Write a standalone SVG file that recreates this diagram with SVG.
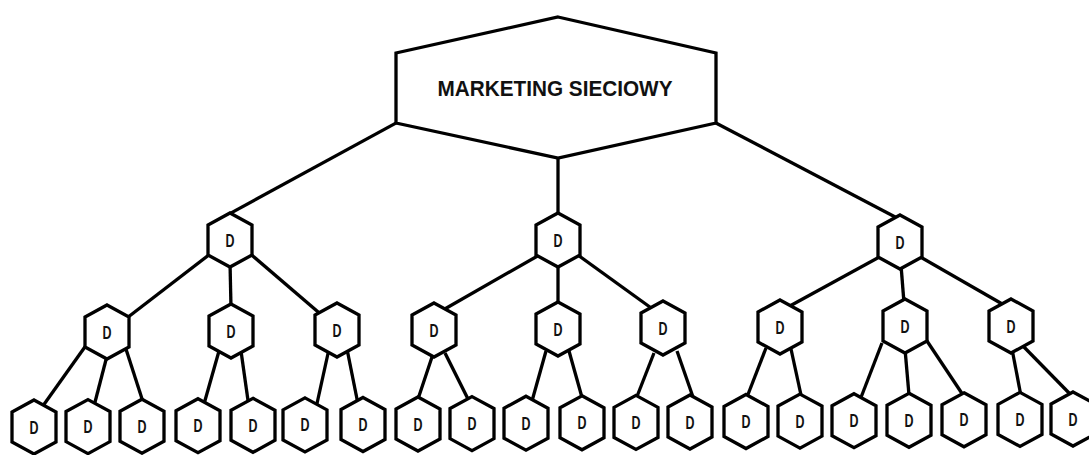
<svg xmlns="http://www.w3.org/2000/svg" xmlns:xlink="http://www.w3.org/1999/xlink" width="1089" height="455" viewBox="0 0 1089 455">
<style>
.hex{fill:#fff;stroke:#000;stroke-width:3.3;stroke-linejoin:miter}
.lbl{font-family:"Liberation Sans",Arial,sans-serif;font-weight:bold;font-size:18px;fill:#111;text-anchor:middle}
.title{font-family:"Liberation Sans",Arial,sans-serif;font-weight:bold;font-size:22px;fill:#111;text-anchor:middle}
#connectors line{stroke:#000;stroke-width:3.3;stroke-linecap:butt}
</style>
<defs>
<polygon id="h" class="hex" points="0,-27 22,-15 22,15 0,27 -22,15 -22,-15"/>
</defs>
<rect width="1089" height="455" fill="#fff"/>
<g id="connectors">
<line x1="400.4" y1="120.6" x2="226.6" y2="215.4"/>
<line x1="558" y1="156" x2="558" y2="216"/>
<line x1="711.6" y1="120.7" x2="901.4" y2="220.3"/>
<line x1="214" y1="251" x2="123" y2="321"/>
<line x1="230" y1="262" x2="231" y2="308"/>
<line x1="247" y1="251" x2="324" y2="317"/>
<line x1="541" y1="254" x2="443" y2="310"/>
<line x1="558" y1="262" x2="558" y2="306"/>
<line x1="575" y1="253" x2="654" y2="310"/>
<line x1="883" y1="255" x2="788" y2="307"/>
<line x1="901" y1="265" x2="904" y2="303"/>
<line x1="917" y1="255" x2="1004" y2="305"/>
<line x1="87" y1="344" x2="40" y2="410"/>
<line x1="108" y1="352" x2="94" y2="406"/>
<line x1="125" y1="346" x2="144" y2="405"/>
<line x1="219" y1="351" x2="204" y2="404"/>
<line x1="241" y1="351" x2="248.5" y2="404"/>
<line x1="329" y1="349" x2="316" y2="408"/>
<line x1="347" y1="349" x2="358" y2="404"/>
<line x1="433" y1="354" x2="417" y2="402"/>
<line x1="445" y1="353" x2="469" y2="401"/>
<line x1="546" y1="351" x2="532" y2="401"/>
<line x1="569" y1="351" x2="583" y2="401"/>
<line x1="654" y1="353" x2="636" y2="399"/>
<line x1="677" y1="351" x2="693" y2="397"/>
<line x1="766" y1="348" x2="747" y2="397"/>
<line x1="791" y1="349" x2="801" y2="395"/>
<line x1="882" y1="343" x2="860" y2="400"/>
<line x1="905" y1="349" x2="909" y2="395"/>
<line x1="925" y1="338" x2="963" y2="395"/>
<line x1="1012" y1="349" x2="1021" y2="396"/>
<line x1="1022" y1="345" x2="1071" y2="395"/>
</g>
<g id="root">
<polygon class="hex" points="558,17 716,53 716,123 558,158 396,123 396,53"/>
<text class="title" x="555" y="96" textLength="235" lengthAdjust="spacingAndGlyphs">MARKETING SIECIOWY</text>
</g>
<g id="n1a"><use xlink:href="#h" x="230" y="240"/><text class="lbl" x="230" y="246.5" textLength="9" lengthAdjust="spacingAndGlyphs">D</text></g>
<g id="n1b"><use xlink:href="#h" x="558" y="240"/><text class="lbl" x="558" y="246.5" textLength="9" lengthAdjust="spacingAndGlyphs">D</text></g>
<g id="n1c"><use xlink:href="#h" x="900" y="242"/><text class="lbl" x="900" y="248.5" textLength="9" lengthAdjust="spacingAndGlyphs">D</text></g>
<g id="n2a"><use xlink:href="#h" x="107" y="332"/><text class="lbl" x="107" y="338.5" textLength="9" lengthAdjust="spacingAndGlyphs">D</text></g>
<g id="n2b"><use xlink:href="#h" x="231" y="331"/><text class="lbl" x="231" y="337.5" textLength="9" lengthAdjust="spacingAndGlyphs">D</text></g>
<g id="n2c"><use xlink:href="#h" x="337" y="330"/><text class="lbl" x="337" y="336.5" textLength="9" lengthAdjust="spacingAndGlyphs">D</text></g>
<g id="n2d"><use xlink:href="#h" x="434" y="330"/><text class="lbl" x="434" y="336.5" textLength="9" lengthAdjust="spacingAndGlyphs">D</text></g>
<g id="n2e"><use xlink:href="#h" x="558" y="329"/><text class="lbl" x="558" y="335.5" textLength="9" lengthAdjust="spacingAndGlyphs">D</text></g>
<g id="n2f"><use xlink:href="#h" x="663" y="328"/><text class="lbl" x="663" y="334.5" textLength="9" lengthAdjust="spacingAndGlyphs">D</text></g>
<g id="n2g"><use xlink:href="#h" x="780" y="327"/><text class="lbl" x="780" y="333.5" textLength="9" lengthAdjust="spacingAndGlyphs">D</text></g>
<g id="n2h"><use xlink:href="#h" x="905" y="326"/><text class="lbl" x="905" y="332.5" textLength="9" lengthAdjust="spacingAndGlyphs">D</text></g>
<g id="n2i"><use xlink:href="#h" x="1011" y="326"/><text class="lbl" x="1011" y="332.5" textLength="9" lengthAdjust="spacingAndGlyphs">D</text></g>
<g id="n3a"><use xlink:href="#h" x="34" y="427"/><text class="lbl" x="34" y="433.5" textLength="9" lengthAdjust="spacingAndGlyphs">D</text></g>
<g id="n3b"><use xlink:href="#h" x="88" y="426.6"/><text class="lbl" x="88" y="433.1" textLength="9" lengthAdjust="spacingAndGlyphs">D</text></g>
<g id="n3c"><use xlink:href="#h" x="142" y="426.2"/><text class="lbl" x="142" y="432.7" textLength="9" lengthAdjust="spacingAndGlyphs">D</text></g>
<g id="n3d"><use xlink:href="#h" x="198" y="425.7"/><text class="lbl" x="198" y="432.2" textLength="9" lengthAdjust="spacingAndGlyphs">D</text></g>
<g id="n3e"><use xlink:href="#h" x="253" y="425.3"/><text class="lbl" x="253" y="431.8" textLength="9" lengthAdjust="spacingAndGlyphs">D</text></g>
<g id="n3f"><use xlink:href="#h" x="305" y="424.9"/><text class="lbl" x="305" y="431.4" textLength="9" lengthAdjust="spacingAndGlyphs">D</text></g>
<g id="n3g"><use xlink:href="#h" x="363" y="424.5"/><text class="lbl" x="363" y="431" textLength="9" lengthAdjust="spacingAndGlyphs">D</text></g>
<g id="n3h"><use xlink:href="#h" x="418" y="424"/><text class="lbl" x="418" y="430.5" textLength="9" lengthAdjust="spacingAndGlyphs">D</text></g>
<g id="n3i"><use xlink:href="#h" x="472" y="423.6"/><text class="lbl" x="472" y="430.1" textLength="9" lengthAdjust="spacingAndGlyphs">D</text></g>
<g id="n3j"><use xlink:href="#h" x="526" y="423.2"/><text class="lbl" x="526" y="429.7" textLength="9" lengthAdjust="spacingAndGlyphs">D</text></g>
<g id="n3k"><use xlink:href="#h" x="582" y="422.8"/><text class="lbl" x="582" y="429.3" textLength="9" lengthAdjust="spacingAndGlyphs">D</text></g>
<g id="n3l"><use xlink:href="#h" x="636" y="422.4"/><text class="lbl" x="636" y="428.9" textLength="9" lengthAdjust="spacingAndGlyphs">D</text></g>
<g id="n3m"><use xlink:href="#h" x="690" y="422"/><text class="lbl" x="690" y="428.5" textLength="9" lengthAdjust="spacingAndGlyphs">D</text></g>
<g id="n3n"><use xlink:href="#h" x="746" y="421.5"/><text class="lbl" x="746" y="428" textLength="9" lengthAdjust="spacingAndGlyphs">D</text></g>
<g id="n3o"><use xlink:href="#h" x="800" y="421.1"/><text class="lbl" x="800" y="427.6" textLength="9" lengthAdjust="spacingAndGlyphs">D</text></g>
<g id="n3p"><use xlink:href="#h" x="854" y="420.7"/><text class="lbl" x="854" y="427.2" textLength="9" lengthAdjust="spacingAndGlyphs">D</text></g>
<g id="n3q"><use xlink:href="#h" x="909" y="420.3"/><text class="lbl" x="909" y="426.8" textLength="9" lengthAdjust="spacingAndGlyphs">D</text></g>
<g id="n3r"><use xlink:href="#h" x="964" y="419.8"/><text class="lbl" x="964" y="426.3" textLength="9" lengthAdjust="spacingAndGlyphs">D</text></g>
<g id="n3s"><use xlink:href="#h" x="1020" y="419.4"/><text class="lbl" x="1020" y="425.9" textLength="9" lengthAdjust="spacingAndGlyphs">D</text></g>
<g id="n3t"><use xlink:href="#h" x="1073" y="419"/><text class="lbl" x="1073" y="425.5" textLength="9" lengthAdjust="spacingAndGlyphs">D</text></g>
</svg>
